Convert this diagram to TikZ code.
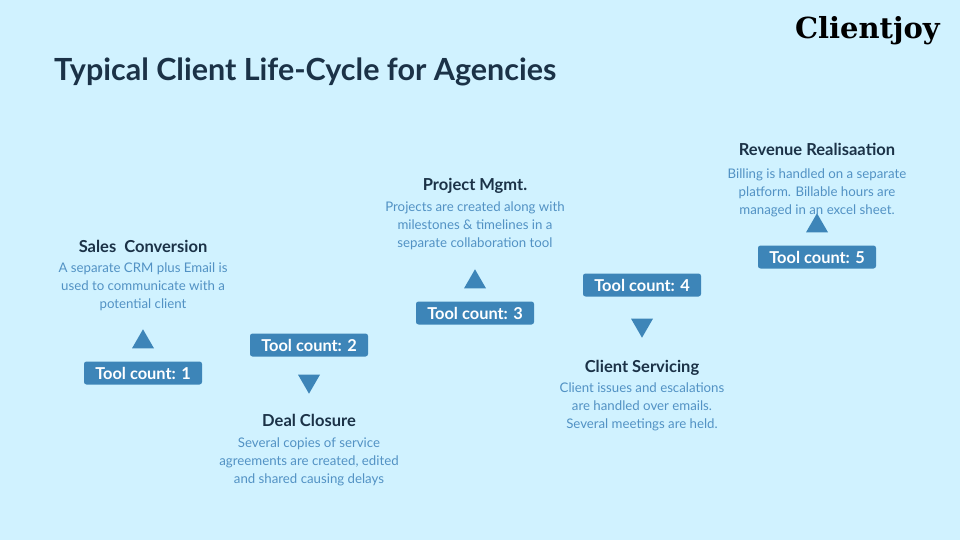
\documentclass[tikz,border=0pt]{standalone}
\usepackage{fontspec}
\setmainfont{Lato}
\newfontfamily\logofont{DejaVu Serif}
\usepackage{xcolor}
\usetikzlibrary{shapes.geometric}
\definecolor{BGc}{RGB}{208,242,255}
\definecolor{TOOLc}{RGB}{61,133,184}
\definecolor{DESCc}{RGB}{82,146,196}
\definecolor{HEADc}{RGB}{27,50,71}
\tikzset{
  toolbox/.style={rounded corners=2.5pt,fill=TOOLc,text=white,minimum width=118pt,
                  minimum height=23pt,inner sep=0pt,font=\fontsize{16.4}{18}\selectfont\bfseries},
  upmark/.style={regular polygon,regular polygon sides=3,fill=TOOLc,
                 minimum size=25.4pt,inner sep=0pt},
  downmark/.style={upmark,shape border rotate=180},
  stagehead/.style={text=HEADc,font=\fontsize{16.5}{18}\selectfont\bfseries,inner sep=0pt},
  stagetext/.style={text=DESCc,align=center,inner sep=0pt,
                    font=\fontsize{13.25}{17.8}\selectfont},
}
\begin{document}
\begin{tikzpicture}[x=1pt,y=-1pt]
  \useasboundingbox[fill=BGc] (0,0) rectangle (960,540);
  % heading and logo
  \node[anchor=west,inner sep=0pt,text=HEADc,font=\fontsize{30.5}{34}\selectfont\bfseries] (heading) at (54,72) {Typical Client Life-Cycle for Agencies};
  \node[anchor=east,inner sep=0pt,text=black,font=\fontsize{29}{32}\logofont\bfseries] (logo) at (940,31) {Clientjoy};
  % sales
  \node[stagehead] (saleshead) at (143,246) {Sales\ \ Conversion};
  \node[stagetext] (salestext) at (143,287) {A separate CRM plus Email is\\used to communicate with a\\potential client};
  \node[upmark] (salesmark) at (143,342) {};
  \node[toolbox] (salestool) at (143,373) {Tool count: 1};
  % deal
  \node[toolbox] (dealtool) at (309,345) {Tool count: 2};
  \node[downmark] (dealmark) at (309,381) {};
  \node[stagehead] (dealhead) at (309,420) {Deal Closure};
  \node[stagetext] (dealtext) at (309,462) {Several copies of service\\agreements are created, edited\\and shared causing delays};
  % project
  \node[stagehead] (projhead) at (475,186) {Project Mgmt.};
  \node[stagetext] (projtext) at (475,226) {Projects are created along with\\milestones \& timelines in a\\separate collaboration tool};
  \node[upmark] (projmark) at (475,282) {};
  \node[toolbox] (projtool) at (475,313) {Tool count: 3};
  % servicing
  \node[toolbox] (servtool) at (642,285) {Tool count: 4};
  \node[downmark] (servmark) at (642,325) {};
  \node[stagehead] (servhead) at (642,368) {Client Servicing};
  \node[stagetext] (servtext) at (642,407) {Client issues and escalations\\are handled over emails.\\Several meetings are held.};
  % revenue
  \node[stagehead] (revhead) at (817,149) {Revenue Realisaation};
  \node[stagetext] (revtext) at (817,193) {Billing is handled on a separate\\platform. Billable hours are\\managed in an excel sheet.};
  \node[upmark] (revmark) at (817,226) {};
  \node[toolbox] (revtool) at (817,257) {Tool count: 5};
\end{tikzpicture}
\end{document}
